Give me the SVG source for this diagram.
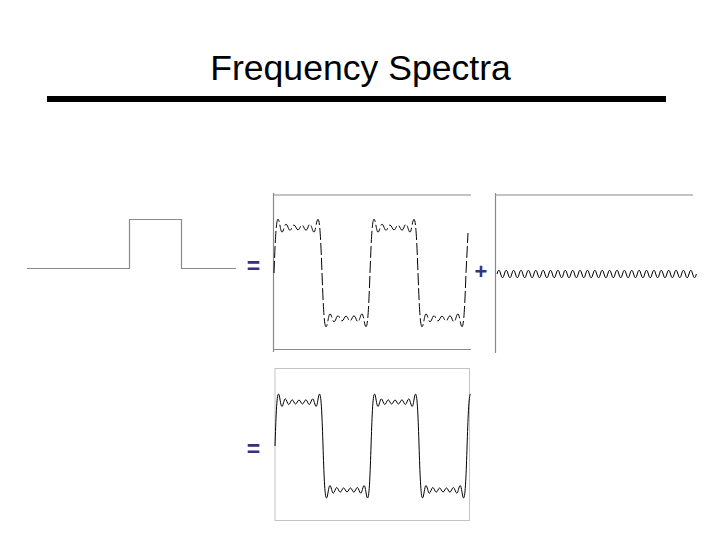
<svg xmlns="http://www.w3.org/2000/svg" width="720" height="540" viewBox="0 0 720 540">
<style>
.axis{stroke:#8a8a8a;stroke-width:1.2;fill:none}
.op{font-family:"Liberation Sans",Arial,sans-serif;font-weight:bold;fill:#333385}
.wave{fill:none;stroke:#000;stroke-width:1;stroke-linejoin:round}
</style>
<rect width="720" height="540" fill="#fff"/>
<g id="title">
<text x="360.5" y="80" text-anchor="middle" font-family="Liberation Sans, Arial, sans-serif" font-size="35.6" fill="#000">Frequency Spectra</text>
<rect x="47" y="96" width="619" height="6" fill="#000"/>
</g>
<g id="rect-pulse">
<path class="axis" d="M27,268.5 H129.5 V219.5 H181.5 V268.5 H236" stroke-width="1.5"/>
</g>
<g id="partial-sum">
<path class="axis" d="M273.5,193 V352 M273,195 H471 M273,349.5 H471"/>
<path class="wave" stroke-dasharray="12 3" d="M274,273 c 1,-26.875 2,-53.75 4,-53.75
c 1.5,0 2.5,12.89 4,12.89 s 2.5,-7.99 4,-7.99 s 2.5,6.11 4,6.11 s 2.5,-5.24 4,-5.24 s 2.5,4.88 4,4.88 s 2.5,-4.88 4,-4.88 s 2.5,5.24 4,5.24 s 2.5,-6.11 4,-6.11 s 2.5,7.99 4,7.99 s 2.5,-12.89 4,-12.89
c 4,0 4,107.5 8,107.5
c 1.5,0 2.5,-12.89 4,-12.89 s 2.5,7.99 4,7.99 s 2.5,-6.11 4,-6.11 s 2.5,5.24 4,5.24 s 2.5,-4.88 4,-4.88 s 2.5,4.88 4,4.88 s 2.5,-5.24 4,-5.24 s 2.5,6.11 4,6.11 s 2.5,-7.99 4,-7.99 s 2.5,12.89 4,12.89
c 4,0 4,-107.5 8,-107.5
c 1.5,0 2.5,12.89 4,12.89 s 2.5,-7.99 4,-7.99 s 2.5,6.11 4,6.11 s 2.5,-5.24 4,-5.24 s 2.5,4.88 4,4.88 s 2.5,-4.88 4,-4.88 s 2.5,5.24 4,5.24 s 2.5,-6.11 4,-6.11 s 2.5,7.99 4,7.99 s 2.5,-12.89 4,-12.89
c 4,0 4,107.5 8,107.5
c 1.5,0 2.5,-12.89 4,-12.89 s 2.5,7.99 4,7.99 s 2.5,-6.11 4,-6.11 s 2.5,5.24 4,5.24 s 2.5,-4.88 4,-4.88 s 2.5,4.88 4,4.88 s 2.5,-5.24 4,-5.24 s 2.5,6.11 4,6.11 s 2.5,-7.99 4,-7.99 s 2.5,12.89 4,12.89
c 2,0 3,-26.875 4,-53.75 l 2,-40"/>
</g>
<g id="residual">
<path class="axis" d="M495.5,193 V353" stroke-width="1.8"/>
<path class="axis" d="M495,195 H693"/>
<path class="wave" stroke-width="0.8" d="M497,274 q 1.846,-7.6 3.692,0 t 3.692,0 t 3.692,0 t 3.692,0 t 3.692,0 t 3.692,0 t 3.692,0 t 3.692,0 t 3.692,0 t 3.692,0 t 3.692,0 t 3.692,0 t 3.692,0 t 3.692,0 t 3.692,0 t 3.692,0 t 3.692,0 t 3.692,0 t 3.692,0 t 3.692,0 t 3.692,0 t 3.692,0 t 3.692,0 t 3.692,0 t 3.692,0 t 3.692,0 t 3.692,0 t 3.692,0 t 3.692,0 t 3.692,0 t 3.692,0 t 3.692,0 t 3.692,0 t 3.692,0 t 3.692,0 t 3.692,0 t 3.692,0 t 3.692,0 t 3.692,0 t 3.692,0 t 3.692,0 t 3.692,0 t 3.692,0 t 3.692,0 t 3.692,0 t 3.692,0 t 3.692,0 t 3.692,0 t 3.692,0 t 3.692,0 t 3.692,0 t 3.692,0 t 3.692,0 t 3.692,0"/>
</g>
<g id="full-sum">
<rect x="275" y="368.5" width="194.5" height="152" fill="none" stroke="#c4c4c4" stroke-width="1"/>
<path class="wave" stroke="#2a2a66" stroke-width="1.2" d="M275,446 c 0.857,-25.975 1.715,-51.95 3.43,-51.95
c 1.3,0 2.13,12.38 3.43,12.38 s 2.13,-7.58 3.43,-7.58 s 2.13,5.68 3.43,5.68 s 2.13,-4.73 3.43,-4.73 s 2.13,4.24 3.43,4.24 s 2.13,-4.03 3.43,-4.03 s 2.13,4.03 3.43,4.03 s 2.13,-4.24 3.43,-4.24 s 2.13,4.73 3.43,4.73 s 2.13,-5.68 3.43,-5.68 s 2.13,7.58 3.43,7.58 s 2.13,-12.38 3.43,-12.38
c 3.43,0 3.43,103.9 6.86,103.9
c 1.3,0 2.13,-12.38 3.43,-12.38 s 2.13,7.58 3.43,7.58 s 2.13,-5.68 3.43,-5.68 s 2.13,4.73 3.43,4.73 s 2.13,-4.24 3.43,-4.24 s 2.13,4.03 3.43,4.03 s 2.13,-4.03 3.43,-4.03 s 2.13,4.24 3.43,4.24 s 2.13,-4.73 3.43,-4.73 s 2.13,5.68 3.43,5.68 s 2.13,-7.58 3.43,-7.58 s 2.13,12.38 3.43,12.38
c 3.43,0 3.43,-103.9 6.86,-103.9
c 1.3,0 2.13,12.38 3.43,12.38 s 2.13,-7.58 3.43,-7.58 s 2.13,5.68 3.43,5.68 s 2.13,-4.73 3.43,-4.73 s 2.13,4.24 3.43,4.24 s 2.13,-4.03 3.43,-4.03 s 2.13,4.03 3.43,4.03 s 2.13,-4.24 3.43,-4.24 s 2.13,4.73 3.43,4.73 s 2.13,-5.68 3.43,-5.68 s 2.13,7.58 3.43,7.58 s 2.13,-12.38 3.43,-12.38
c 3.43,0 3.43,103.9 6.86,103.9
c 1.3,0 2.13,-12.38 3.43,-12.38 s 2.13,7.58 3.43,7.58 s 2.13,-5.68 3.43,-5.68 s 2.13,4.73 3.43,4.73 s 2.13,-4.24 3.43,-4.24 s 2.13,4.03 3.43,4.03 s 2.13,-4.03 3.43,-4.03 s 2.13,4.24 3.43,4.24 s 2.13,-4.73 3.43,-4.73 s 2.13,5.68 3.43,5.68 s 2.13,-7.58 3.43,-7.58 s 2.13,12.38 3.43,12.38
c 3.43,0 3.43,-103.9 6.86,-103.9"/>
</g>
<g id="operators">
<text class="op" x="253.5" y="274" text-anchor="middle" font-size="23">=</text>
<text class="op" x="481" y="278.5" text-anchor="middle" font-size="22">+</text>
<text class="op" x="253.5" y="456.5" text-anchor="middle" font-size="23">=</text>
</g>
</svg>
